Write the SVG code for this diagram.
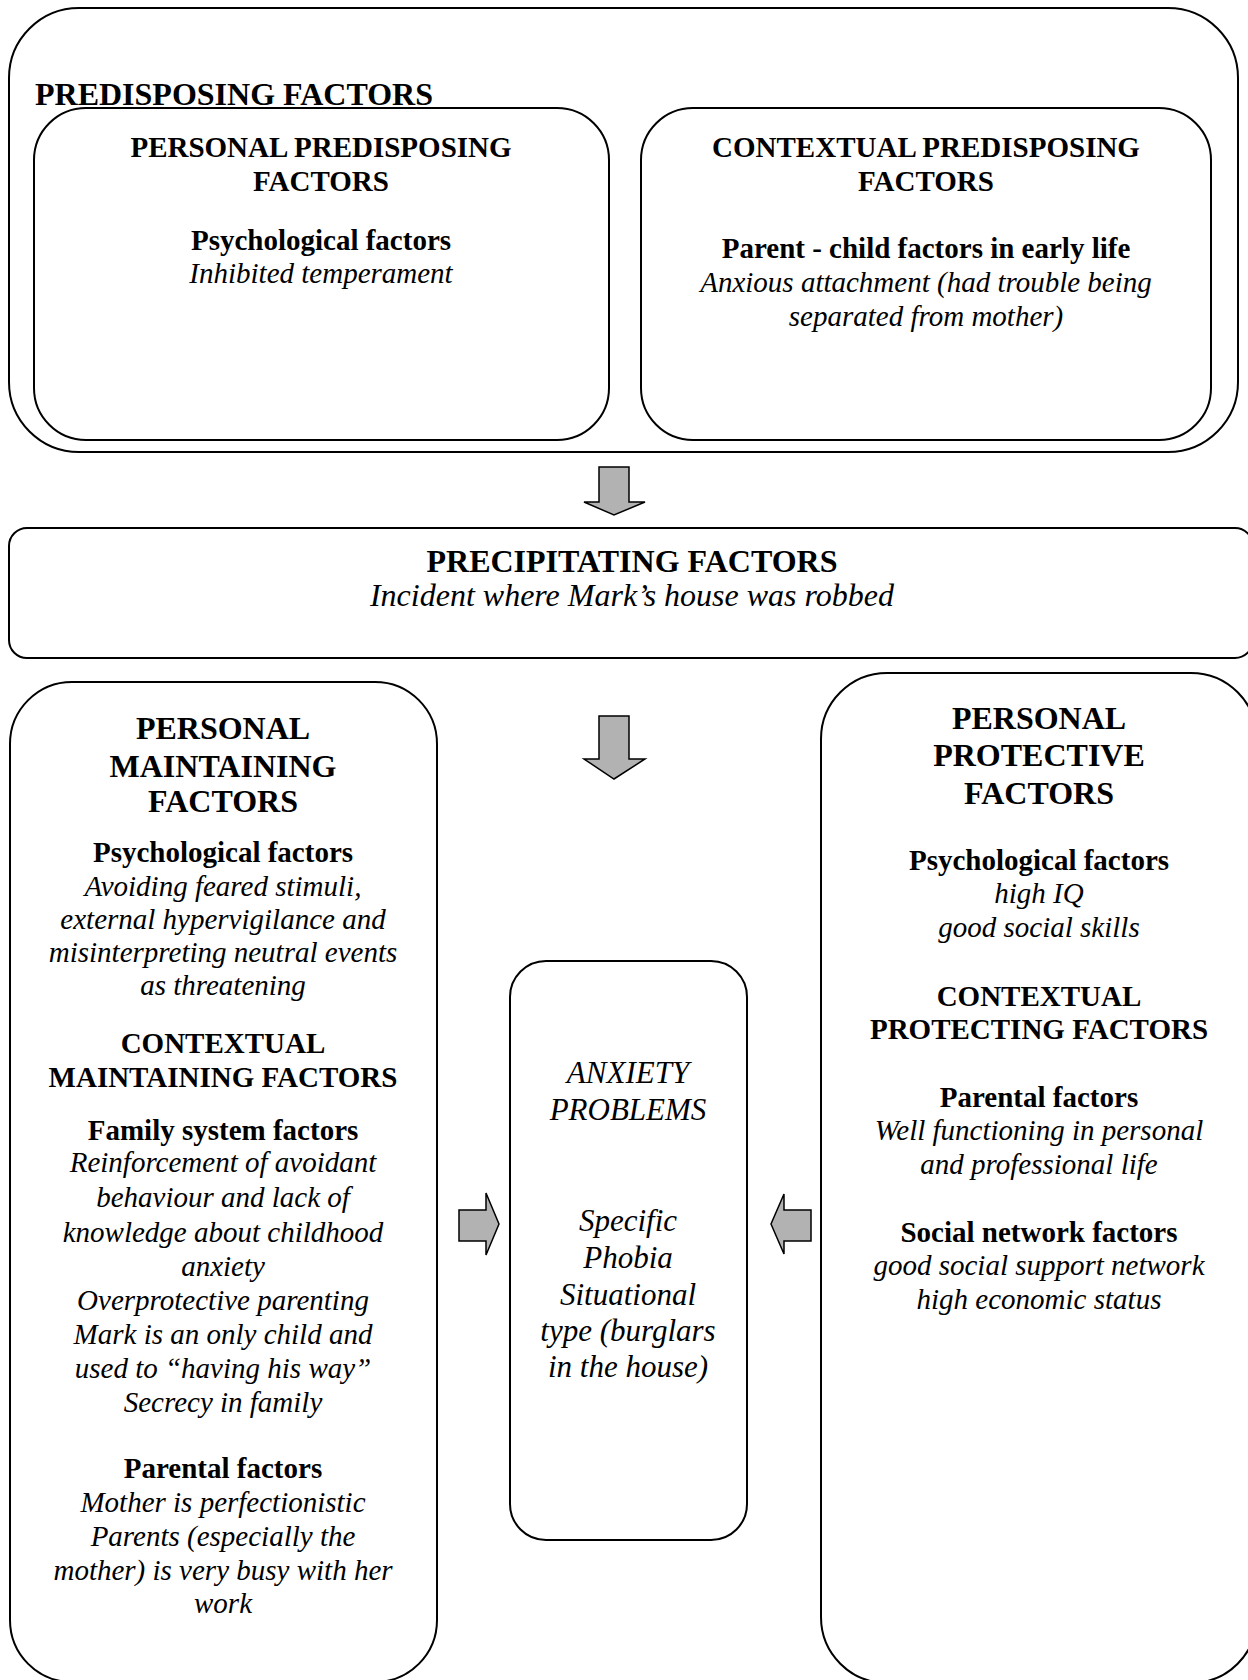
<svg xmlns="http://www.w3.org/2000/svg" width="1248" height="1680" viewBox="0 0 1248 1680">
<style>
.box{fill:none;stroke:#000;stroke-width:2}
.arrow{fill:#b2b2b2;stroke:#000;stroke-width:1.5;stroke-linejoin:miter}
text{font-family:"Liberation Serif","Times New Roman",serif;fill:#000;text-anchor:middle}
.hl{font-weight:bold;font-size:32px}
.h{font-weight:bold;font-size:29px}
.i{font-style:italic;font-size:29px}
.ia{font-style:italic;font-size:31px}
.il{font-style:italic;font-size:32px}
</style>
<rect width="1248" height="1680" fill="#fff"/>

<g id="predisposing">
<rect class="box" x="9" y="8" width="1229" height="444" rx="70" ry="70"/>
<text class="hl" x="35" y="105" style="text-anchor:start">PREDISPOSING FACTORS</text>
</g>

<g id="personal-predisposing">
<rect class="box" x="34" y="108" width="575" height="332" rx="52" ry="52"/>
<text class="h" x="321" y="157">PERSONAL PREDISPOSING</text>
<text class="h" x="321" y="191">FACTORS</text>
<text class="h" x="321" y="250">Psychological factors</text>
<text class="i" x="321" y="283">Inhibited temperament</text>
</g>

<g id="contextual-predisposing">
<rect class="box" x="641" y="108" width="570" height="332" rx="52" ry="52"/>
<text class="h" x="926" y="157">CONTEXTUAL PREDISPOSING</text>
<text class="h" x="926" y="191">FACTORS</text>
<text class="h" x="926" y="258">Parent - child factors in early life</text>
<text class="i" x="926" y="292">Anxious attachment (had trouble being</text>
<text class="i" x="926" y="326">separated from mother)</text>
</g>

<g id="precipitating">
<rect class="box" x="9" y="528" width="1244" height="130" rx="18" ry="18"/>
<text class="hl" x="632" y="572">PRECIPITATING FACTORS</text>
<text class="il" x="632" y="606">Incident where Mark’s house was robbed</text>
</g>

<g id="maintaining">
<rect class="box" x="10" y="682" width="427" height="1000" rx="62" ry="62"/>
<text class="hl" x="223" y="739">PERSONAL</text>
<text class="hl" x="223" y="777">MAINTAINING</text>
<text class="hl" x="223" y="812">FACTORS</text>
<text class="h" x="223" y="862">Psychological factors</text>
<text class="i" x="223" y="896">Avoiding feared stimuli,</text>
<text class="i" x="223" y="929">external hypervigilance and</text>
<text class="i" x="223" y="962">misinterpreting neutral events</text>
<text class="i" x="223" y="995">as threatening</text>
<text class="h" x="223" y="1053">CONTEXTUAL</text>
<text class="h" x="223" y="1087">MAINTAINING FACTORS</text>
<text class="h" x="223" y="1140">Family system factors</text>
<text class="i" x="223" y="1172">Reinforcement of avoidant</text>
<text class="i" x="223" y="1207">behaviour and lack of</text>
<text class="i" x="223" y="1242">knowledge about childhood</text>
<text class="i" x="223" y="1276">anxiety</text>
<text class="i" x="223" y="1310">Overprotective parenting</text>
<text class="i" x="223" y="1344">Mark is an only child and</text>
<text class="i" x="223" y="1378">used to “having his way”</text>
<text class="i" x="223" y="1412">Secrecy in family</text>
<text class="h" x="223" y="1478">Parental factors</text>
<text class="i" x="223" y="1512">Mother is perfectionistic</text>
<text class="i" x="223" y="1546">Parents (especially the</text>
<text class="i" x="223" y="1580">mother) is very busy with her</text>
<text class="i" x="223" y="1613">work</text>
</g>

<g id="anxiety">
<rect class="box" x="510" y="961" width="237" height="579" rx="36" ry="36"/>
<text class="ia" x="628" y="1083">ANXIETY</text>
<text class="ia" x="628" y="1120">PROBLEMS</text>
<text class="ia" x="628" y="1231">Specific</text>
<text class="ia" x="628" y="1268">Phobia</text>
<text class="ia" x="628" y="1305">Situational</text>
<text class="ia" x="628" y="1341">type (burglars</text>
<text class="ia" x="628" y="1377">in the house)</text>
</g>

<g id="protective">
<rect class="box" x="821" y="673" width="436" height="1010" rx="66" ry="66"/>
<text class="hl" x="1039" y="729">PERSONAL</text>
<text class="hl" x="1039" y="766">PROTECTIVE</text>
<text class="hl" x="1039" y="804">FACTORS</text>
<text class="h" x="1039" y="870">Psychological factors</text>
<text class="i" x="1039" y="903">high IQ</text>
<text class="i" x="1039" y="937">good social skills</text>
<text class="h" x="1039" y="1006">CONTEXTUAL</text>
<text class="h" x="1039" y="1039">PROTECTING FACTORS</text>
<text class="h" x="1039" y="1107">Parental factors</text>
<text class="i" x="1039" y="1140">Well functioning in personal</text>
<text class="i" x="1039" y="1174">and professional life</text>
<text class="h" x="1039" y="1242">Social network factors</text>
<text class="i" x="1039" y="1275">good social support network</text>
<text class="i" x="1039" y="1309">high economic status</text>
</g>

<g id="connectors">
<polygon class="arrow" points="599,467 629,467 629,502 645,502 614,515 584,502 599,502"/>
<polygon class="arrow" points="599,716 629,716 629,759 645,759 614,779 584,759 599,759"/>
<polygon class="arrow" points="459,1210 486,1210 486,1193 499,1224 486,1255 486,1241 459,1241"/>
<polygon class="arrow" points="811,1210 784,1210 784,1194 771,1224 784,1254 784,1241 811,1241"/>
</g>
</svg>
